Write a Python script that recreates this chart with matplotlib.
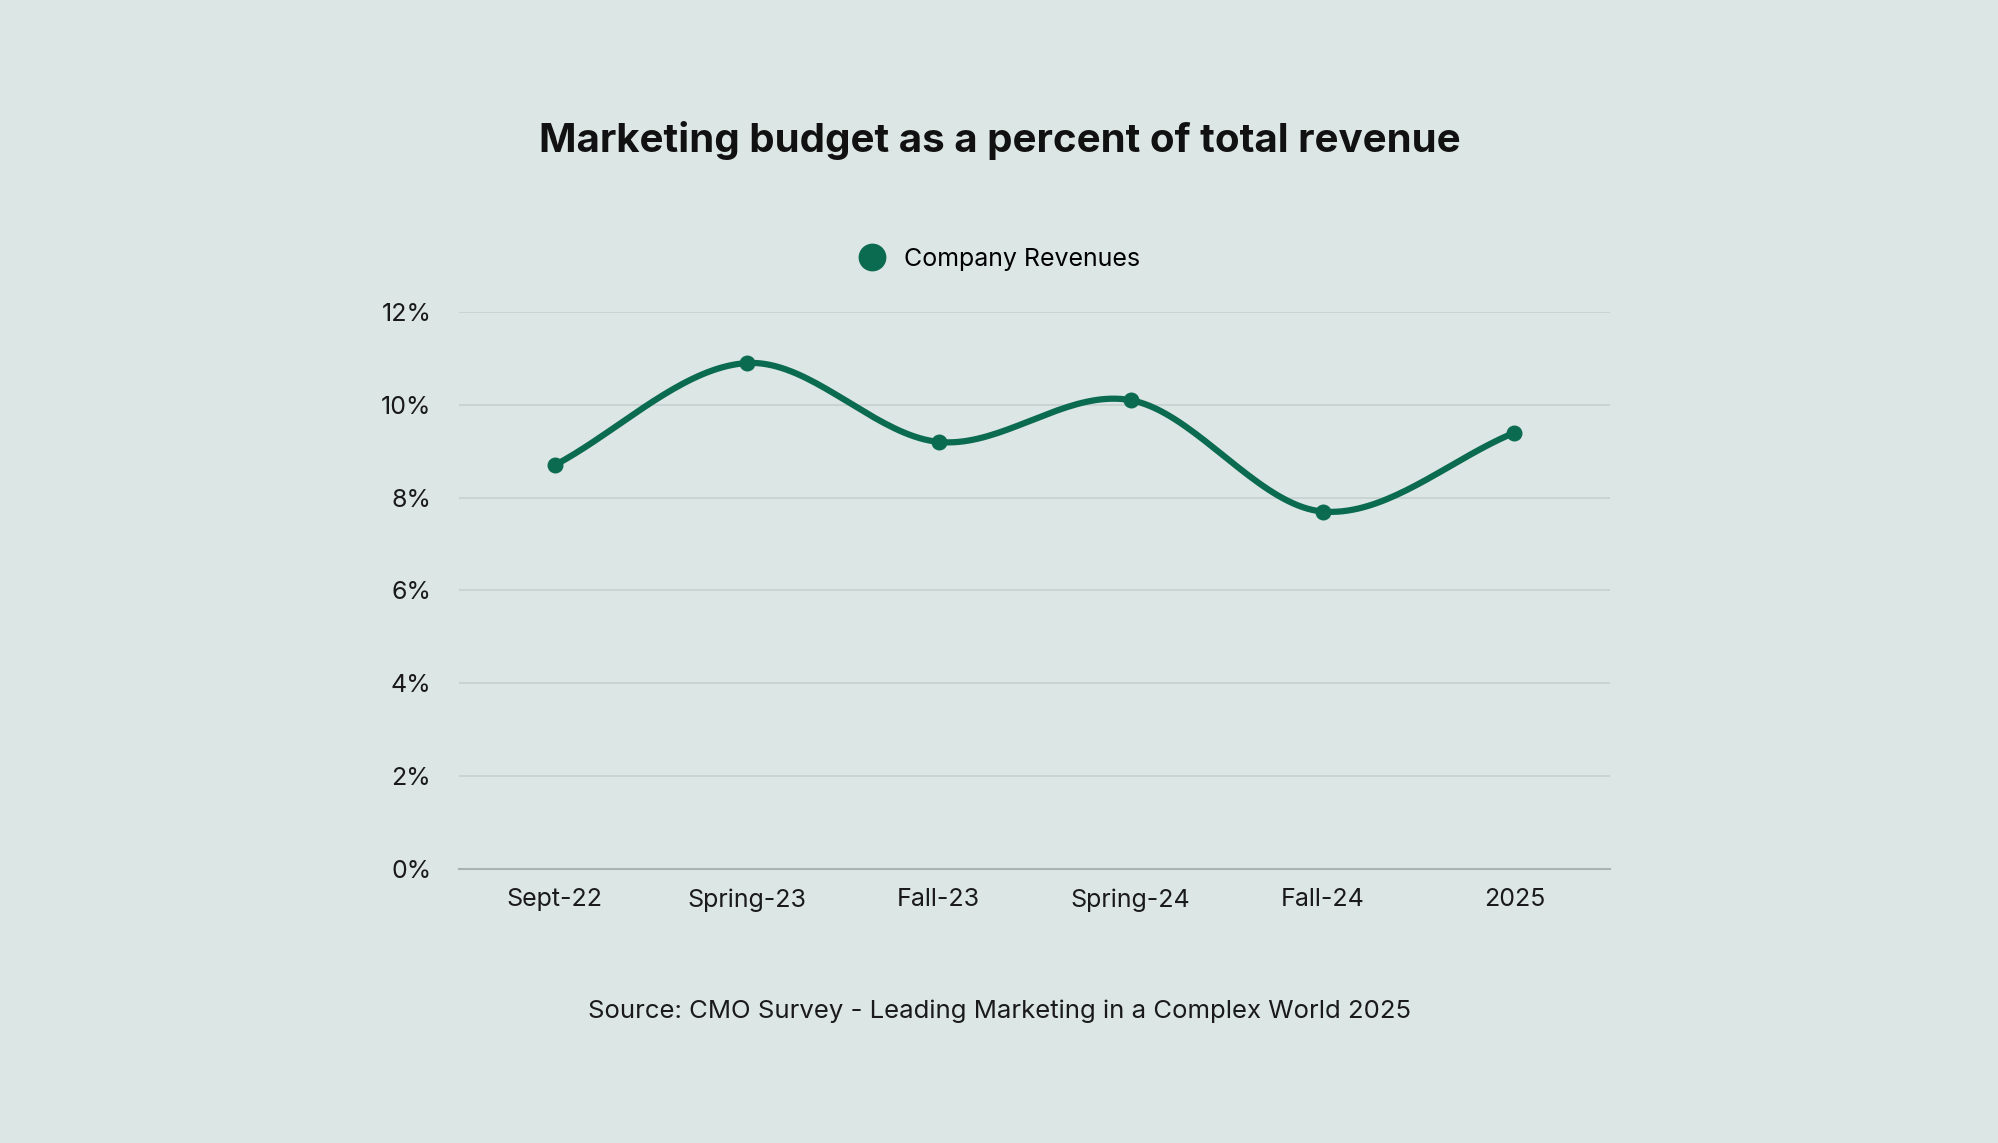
import numpy as np
import matplotlib.pyplot as plt
from matplotlib.lines import Line2D

categories = ["Sept-22", "Spring-23", "Fall-23", "Spring-24", "Fall-24", "2025"]
revenue_pct = [8.7, 10.9, 9.2, 10.1, 7.7, 9.4]
y_ticks = [0, 2, 4, 6, 8, 10, 12]

BG = "#dce6e4"
GREEN = "#0b6b50"
GRID = "#c6d1cf"

plt.rcParams["font.family"] = ["Inter", "DejaVu Sans"]

fig = plt.figure(figsize=(19.99, 11.43), dpi=100, facecolor=BG)
ax = fig.add_axes([0.2296, 0.240, 0.576, 0.487], facecolor=BG)

# smooth curve through the points (Catmull-Rom style)
x = np.arange(len(categories), dtype=float)
y = np.array(revenue_pct)
m = np.gradient(y, x)
xs, ys = [], []
for i in range(len(x) - 1):
    t = np.linspace(0, 1, 40)
    h00 = 2*t**3 - 3*t**2 + 1
    h10 = t**3 - 2*t**2 + t
    h01 = -2*t**3 + 3*t**2
    h11 = t**3 - t**2
    xs.append(x[i] + t)
    ys.append(h00*y[i] + h10*m[i] + h01*y[i+1] + h11*m[i+1])
ax.plot(np.concatenate(xs), np.concatenate(ys), color=GREEN, lw=4.5, solid_capstyle="round", zorder=3)
ax.scatter(x, y, s=110, color=GREEN, zorder=4)

ax.set_xlim(-0.5, len(categories) - 0.5)
ax.set_ylim(0, 12)
ax.set_yticks(y_ticks)
ax.set_yticklabels([f"{v}%" for v in y_ticks])
ax.set_xticks(x)
ax.set_xticklabels(categories)
ax.grid(axis="y", color=GRID, lw=1.2)
ax.set_axisbelow(True)
for s in ["top", "right", "left"]:
    ax.spines[s].set_visible(False)
ax.spines["bottom"].set_color("#a9b3b1")
ax.spines["bottom"].set_linewidth(1.5)
ax.tick_params(length=0, labelsize=18, colors="#1a1a1a", pad=14)
ax.tick_params(axis="y", pad=20)

fig.text(0.5, 0.877, "Marketing budget as a percent of total revenue", ha="center", va="center",
         fontsize=29, fontweight="bold", color="#111111")
handle = Line2D([], [], marker="o", ls="", color=GREEN, markersize=19)
fig.legend([handle], ["Company Revenues"], loc="center", bbox_to_anchor=(0.497, 0.773),
           frameon=False, fontsize=18, handletextpad=0.3)
fig.text(0.5, 0.115, "Source: CMO Survey - Leading Marketing in a Complex World 2025", ha="center",
         va="center", fontsize=18.5, color="#1a1a1a")

fig.savefig("out.png", dpi=100, facecolor=BG)
